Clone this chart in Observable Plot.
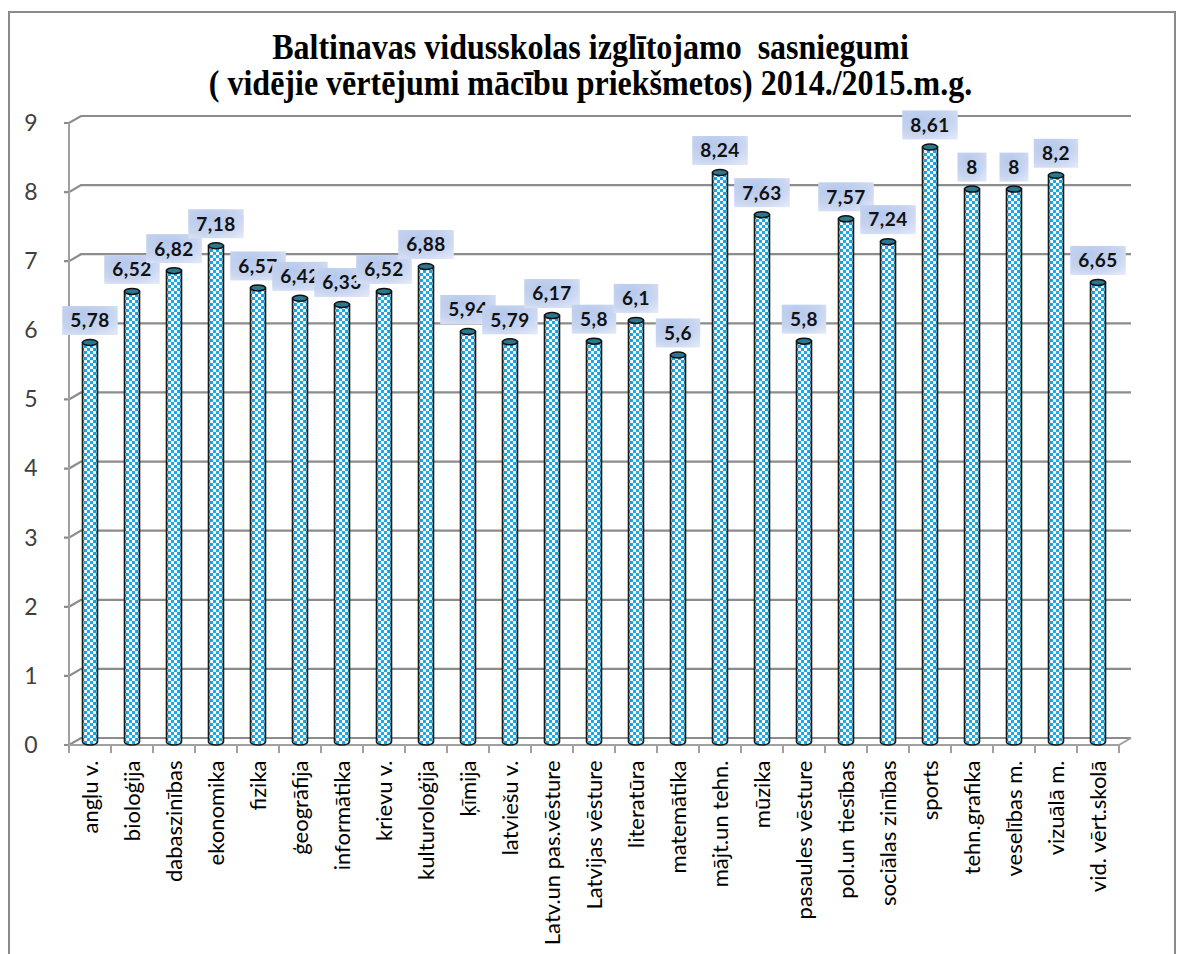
<!DOCTYPE html>
<html><head><meta charset="utf-8">
<script src="https://cdn.jsdelivr.net/npm/d3@7"></script>
<script src="https://cdn.jsdelivr.net/npm/@observablehq/plot@0.6"></script>
<style>
body{margin:0;background:#fff;}
#wrap{position:relative;width:1181px;height:954px;overflow:hidden;background:#fff;}
#frame{position:absolute;left:8px;top:11px;width:1168px;height:1000px;border:2.5px solid #8a8a8a;box-sizing:border-box;pointer-events:none;}
#title{position:absolute;left:0;top:29px;width:1181px;text-align:center;font-family:"Liberation Serif","Times New Roman",serif;font-weight:bold;font-size:32px;line-height:36px;color:#000;transform-origin:592px 0;white-space:nowrap;}
#title div{transform:scaleY(1.1);}
#chart{position:absolute;left:0;top:0;}
</style></head><body>
<div id="wrap">
<div id="chart"></div>
<div id="title"><div>Baltinavas vidusskolas izglītojamo&nbsp; sasniegumi</div><div>( vidējie vērtējumi mācību priekšmetos) 2014./2015.m.g.</div></div>
<div id="frame"></div>
</div>
<script>
const subjects = ["angļu v.","bioloģija","dabaszinības","ekonomika","fizika","ģeogrāfija","informātika","krievu v.","kulturoloģija","ķīmija","latviešu v.","Latv.un pas.vēsture","Latvijas vēsture","literatūra","matemātika","mājt.un tehn.","mūzika","pasaules vēsture","pol.un tiesības","sociālas zinības","sports","tehn.grafika","veselības m.","vizuālā m.","vid. vērt.skolā"];
const values = [5.78,6.52,6.82,7.18,6.57,6.42,6.33,6.52,6.88,5.94,5.79,6.17,5.8,6.1,5.6,8.24,7.63,5.8,7.57,7.24,8.61,8,8,8.2,6.65];
const yTicks = [0,1,2,3,4,5,6,7,8,9];

const data = subjects.map((s, i) => ({subject: s, value: values[i]}));
const fmt = v => String(v).replace(".", ",");
const DX = 12, DY = 7;

function bandInfo(x) {
  const dom = x.domain();
  const bw = x.bandwidth ? x.bandwidth() : (x(dom[1]) - x(dom[0]));
  return {dom, bw};
}

function frame3d(index, scales) {
  const {x, y} = scales;
  const {dom, bw} = bandInfo(x);
  const x0 = x(dom[0]), x1 = x(dom[dom.length - 1]) + bw;
  const g = d3.create("svg:g");
  const grid = "#8c8c8c";
  yTicks.forEach(t => {
    const yb = y(t);
    g.append("path")
      .attr("d", `M${x0 - 5},${yb + DY}H${x0}L${x0 + DX},${yb}H${x1 + DX}`)
      .attr("fill", "none").attr("stroke", grid).attr("stroke-width", 2.2);
  });
  g.append("line")
    .attr("x1", x0).attr("x2", x0)
    .attr("y1", y(yTicks[yTicks.length - 1]) + DY).attr("y2", y(0) + DY)
    .attr("stroke", "#a0a0a0").attr("stroke-width", 2);
  g.append("path")
    .attr("d", `M${x0},${y(0) + DY}H${x1}L${x1 + DX},${y(0)}`)
    .attr("fill", "none").attr("stroke", "#a0a0a0").attr("stroke-width", 2);
  dom.forEach(d => {
    const xx = x(d);
    g.append("line").attr("x1", xx).attr("x2", xx)
      .attr("y1", y(0) + DY).attr("y2", y(0) + DY + 8)
      .attr("stroke", "#a0a0a0").attr("stroke-width", 2);
  });
  g.append("line").attr("x1", x1).attr("x2", x1)
    .attr("y1", y(0) + DY).attr("y2", y(0) + DY + 8)
    .attr("stroke", "#a0a0a0").attr("stroke-width", 2);
  return g.node();
}

function bars3d(index, scales) {
  const {x, y} = scales;
  const {bw} = bandInfo(x);
  const g = d3.create("svg:g");
  const defs = g.append("defs");
  const pat = defs.append("pattern").attr("id", "checker")
    .attr("patternUnits", "userSpaceOnUse").attr("width", 6).attr("height", 6);
  pat.append("rect").attr("width", 6).attr("height", 6).attr("fill", "#14aaeb");
  pat.append("rect").attr("x", 0).attr("y", 0).attr("width", 3).attr("height", 3).attr("fill", "#ffffff");
  pat.append("rect").attr("x", 3).attr("y", 3).attr("width", 3).attr("height", 3).attr("fill", "#ffffff");
  const sh = defs.append("linearGradient").attr("id", "cylShade").attr("x1", 0).attr("x2", 1).attr("y1", 0).attr("y2", 0);
  sh.append("stop").attr("offset", 0).attr("stop-color", "#005078").attr("stop-opacity", 0.3);
  sh.append("stop").attr("offset", 0.25).attr("stop-color", "#005078").attr("stop-opacity", 0);
  sh.append("stop").attr("offset", 0.75).attr("stop-color", "#005078").attr("stop-opacity", 0);
  sh.append("stop").attr("offset", 1).attr("stop-color", "#005078").attr("stop-opacity", 0.3);
  const r = 7.5, ry = 3;
  const bottom = y(0) + 4;
  data.forEach(d => {
    const cx = x(d.subject) + bw / 2;
    const top = y(d.value) + 4;
    const path = `M${cx - r},${top}V${bottom}A${r},${ry} 0 0 0 ${cx + r},${bottom}V${top}Z`;
    g.append("path").attr("d", path).attr("fill", "url(#checker)");
    g.append("path").attr("d", path).attr("fill", "url(#cylShade)")
      .attr("stroke", "#1a1a1a").attr("stroke-width", 1.6);
    g.append("ellipse").attr("cx", cx).attr("cy", top).attr("rx", r).attr("ry", ry)
      .attr("fill", "#2a7890").attr("stroke", "#111").attr("stroke-width", 1.5);
  });
  return g.node();
}

function labels3d(index, scales) {
  const {x, y} = scales;
  const {bw} = bandInfo(x);
  const g = d3.create("svg:g");
  const defs = g.append("defs");
  const lg = defs.append("radialGradient").attr("id", "lblGrad").attr("cx", 0.35).attr("cy", 0.3).attr("r", 0.9);
  lg.append("stop").attr("offset", 0).attr("stop-color", "#b6c8ec");
  lg.append("stop").attr("offset", 0.6).attr("stop-color", "#c8d5f0");
  lg.append("stop").attr("offset", 1).attr("stop-color", "#e2e8f7");
  const ctx = document.createElement("canvas").getContext("2d");
  ctx.font = "bold 19px Lato";
  data.forEach(d => {
    const cx = x(d.subject) + bw / 2;
    const top = y(d.value) + 4;
    const cy = top - 22;
    const txt = fmt(d.value);
    const w = ctx.measureText(txt).width + 18;
    g.append("rect").attr("x", cx - w / 2).attr("y", cy - 14.5).attr("width", w).attr("height", 29)
      .attr("fill", "url(#lblGrad)");
    g.append("text").attr("x", cx).attr("y", cy).attr("text-anchor", "middle")
      .attr("dy", "0.36em").attr("font-family", "Lato").attr("font-weight", "bold")
      .attr("font-size", 19).attr("fill", "#111").attr("letter-spacing", 0.5).text(txt);
  });
  return g.node();
}

const chart = Plot.plot({
  width: 1181,
  height: 954,
  marginLeft: 60,
  marginRight: 53,
  marginTop: 116,
  marginBottom: 216,
  style: {fontFamily: "Lato", background: "transparent"},
  x: {type: "band", domain: subjects, range: [60, 1128], padding: 0},
  y: {domain: [0, 9], range: [738, 116]},
  marks: [
    frame3d,
    bars3d,
    labels3d,
    Plot.axisX({tickSize: 0, tickPadding: 22, tickRotate: -90, fontSize: 22, fill: "#000", label: null}),
    Plot.axisY(yTicks, {tickSize: 0, tickPadding: 23, dy: DY, fontSize: 23, fill: "#404040", label: null, tickFormat: d => String(d)})
  ]
});
document.getElementById("chart").appendChild(chart);
</script>
</body></html>
